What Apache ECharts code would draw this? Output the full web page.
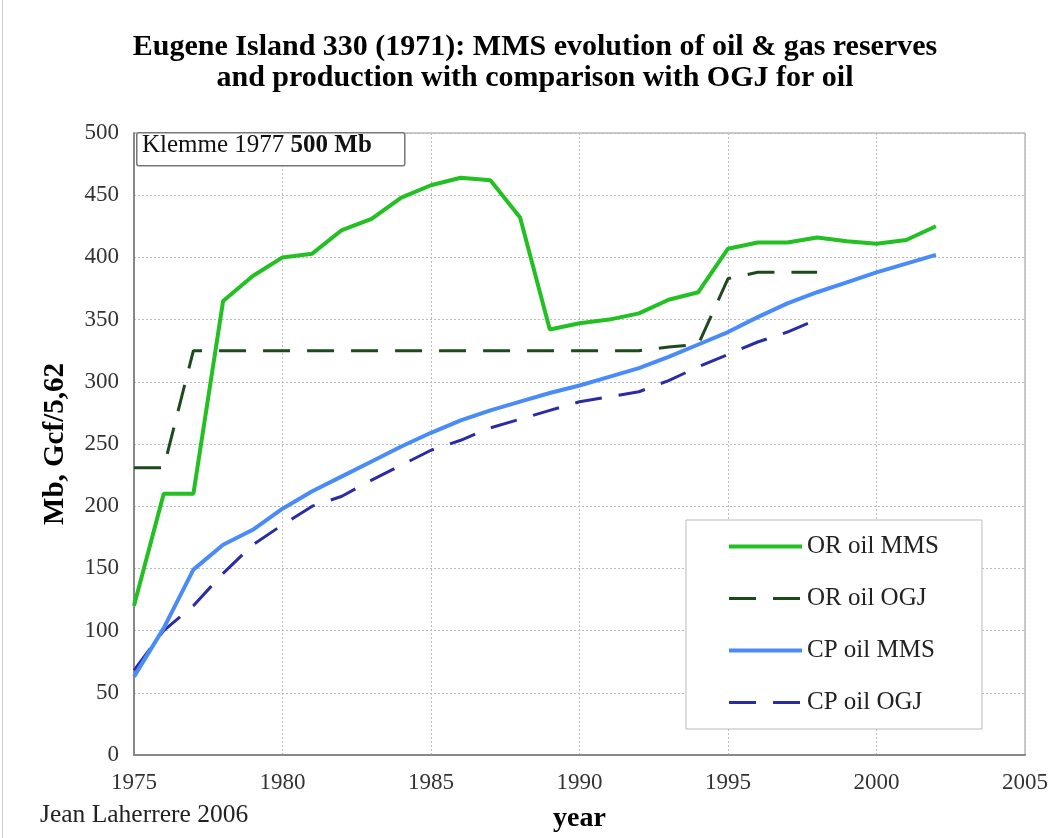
<!DOCTYPE html>
<html>
<head>
<meta charset="utf-8">
<script src="https://cdn.jsdelivr.net/npm/echarts@6/dist/echarts.min.js"></script>
<style>html,body{margin:0;padding:0;background:#fff}#c{width:1051px;height:838px}</style>
</head>
<body>
<div id="c"></div>
<script>
const yearsMMS = [1975,1976,1977,1978,1979,1980,1981,1982,1983,1984,1985,1986,1987,1988,1989,1990,1991,1992,1993,1994,1995,1996,1997,1998,1999,2000,2001,2002];
const orOilMMS = [120,210,210,365,385,400,403,422,431,448,458,464,462,432,342,347,350,355,366,372,407,412,412,416,413,411,414,425];
const cpOilMMS = [63,102,149,169,181,198,212,224,236,248,259,269,277,284,291,297,304,311,320,330,340,352,363,372,380,388,395,402];
const yearsOGJ = [1975,1976,1977,1978,1979,1980,1981,1982,1983,1984,1985,1986,1987,1988,1989,1990,1991,1992,1993,1994,1995,1996,1997,1998];
const orOilOGJ = [231,231,325,325,325,325,325,325,325,325,325,325,325,325,325,325,325,325,328,330,383,388,388,388];
const cpOilOGJ = [68,100,120,146,169,185,200,208,221,233,245,253,263,270,277,284,288,292,301,312,322,332,340,350];
const seriesNames = ['OR oil MMS','OR oil OGJ','CP oil MMS','CP oil OGJ'];
const xTicks = [1975,1980,1985,1990,1995,2000,2005];

function pairs(xs, ys){ return xs.map((x,i)=>[x, ys[i]]); }

const serif = '"Liberation Serif","DejaVu Serif",serif';
const chart = echarts.init(document.getElementById('c'));
chart.setOption({
  animation: false,
  backgroundColor: '#fff',
  title: {
    text: 'Eugene Island 330 (1971): MMS evolution of oil & gas reserves\nand production with comparison with OGJ for oil',
    left: 535,
    top: 32,
    padding: 0,
    textAlign: 'center',
    textStyle: { fontFamily: serif, fontWeight: 'bold', fontSize: 30, lineHeight: 31, color: '#000' }
  },
  grid: { left: 134, right: 26, top: 133, bottom: 83, show: true, borderColor: '#999', borderWidth: 1 },
  legend: {
    orient: 'vertical',
    left: 686, top: 520,
    data: seriesNames,
    itemWidth: 73, itemHeight: 14, itemGap: 27,
    padding: [14, 43, 14, 41],
    borderColor: '#bbb', borderWidth: 1,
    backgroundColor: '#fff',
    itemStyle: { opacity: 0 },
    lineStyle: { width: 'inherit' },
    textStyle: { fontFamily: serif, fontSize: 25, color: '#222' }
  },
  xAxis: {
    type: 'value', min: 1975, max: 2005, interval: 5,
    name: 'year', nameLocation: 'middle', nameGap: 50,
    nameTextStyle: { fontFamily: serif, fontWeight: 'bold', fontSize: 28, color: '#000' },
    axisLine: { show: true, lineStyle: { color: '#888', width: 2 } },
    axisTick: { show: false },
    axisLabel: { fontFamily: serif, fontSize: 23, color: '#333', margin: 16, formatter: v => xTicks.includes(v) ? String(v) : '' },
    splitLine: { show: true, lineStyle: { color: '#bbb', type: [2,2], width: 1 } }
  },
  yAxis: {
    type: 'value', min: 0, max: 500, interval: 50,
    name: 'Mb, Gcf/5,62', nameLocation: 'middle', nameGap: 64,
    nameTextStyle: { fontFamily: serif, fontWeight: 'bold', fontSize: 29, color: '#000' },
    axisLine: { show: true, lineStyle: { color: '#888', width: 2 } },
    axisTick: { show: false },
    axisLabel: { fontFamily: serif, fontSize: 23, color: '#333', margin: 15 },
    splitLine: { show: true, lineStyle: { color: '#bbb', type: [2,2], width: 1 } }
  },
  series: [
    { name: seriesNames[0], type: 'line', data: pairs(yearsMMS, orOilMMS), showSymbol: false, symbol: 'none',
      lineStyle: { color: '#22c022', width: 4 }, itemStyle: { color: '#22c022' }, z: 4 },
    { name: seriesNames[1], type: 'line', data: pairs(yearsOGJ, orOilOGJ), showSymbol: false, symbol: 'none',
      lineStyle: { color: '#1d4a1d', width: 3, type: [27, 17] }, itemStyle: { color: '#1d4a1d' }, z: 3 },
    { name: seriesNames[2], type: 'line', data: pairs(yearsMMS, cpOilMMS), showSymbol: false, symbol: 'none',
      lineStyle: { color: '#4a8cf7', width: 4 }, itemStyle: { color: '#4a8cf7' }, z: 4 },
    { name: seriesNames[3], type: 'line', data: pairs(yearsOGJ, cpOilOGJ), showSymbol: false, symbol: 'none',
      lineStyle: { color: '#2b2ba6', width: 3, type: [27, 17] }, itemStyle: { color: '#2b2ba6' }, z: 3 }
  ],
  graphic: [
    { type: 'rect', left: 136, top: 132, shape: { width: 268, height: 33, r: 2 },
      style: { fill: '#fff', stroke: '#777', lineWidth: 1.5 }, z: 10 },
    { type: 'text', left: 142, top: 133, z: 11,
      style: { text: 'Klemme 1977 {b|500 Mb}', fontFamily: serif, fontSize: 25, fill: '#111',
        rich: { b: { fontFamily: serif, fontSize: 25, fontWeight: 'bold', fill: '#111' } } } },
    { type: 'text', left: 40, top: 802, z: 11,
      style: { text: 'Jean Laherrere 2006', fontFamily: serif, fontSize: 25.5, fill: '#222' } },
    { type: 'rect', left: 2, top: 0, shape: { width: 1, height: 838 }, style: { fill: '#ccc' } }
  ]
});
</script>
</body>
</html>
